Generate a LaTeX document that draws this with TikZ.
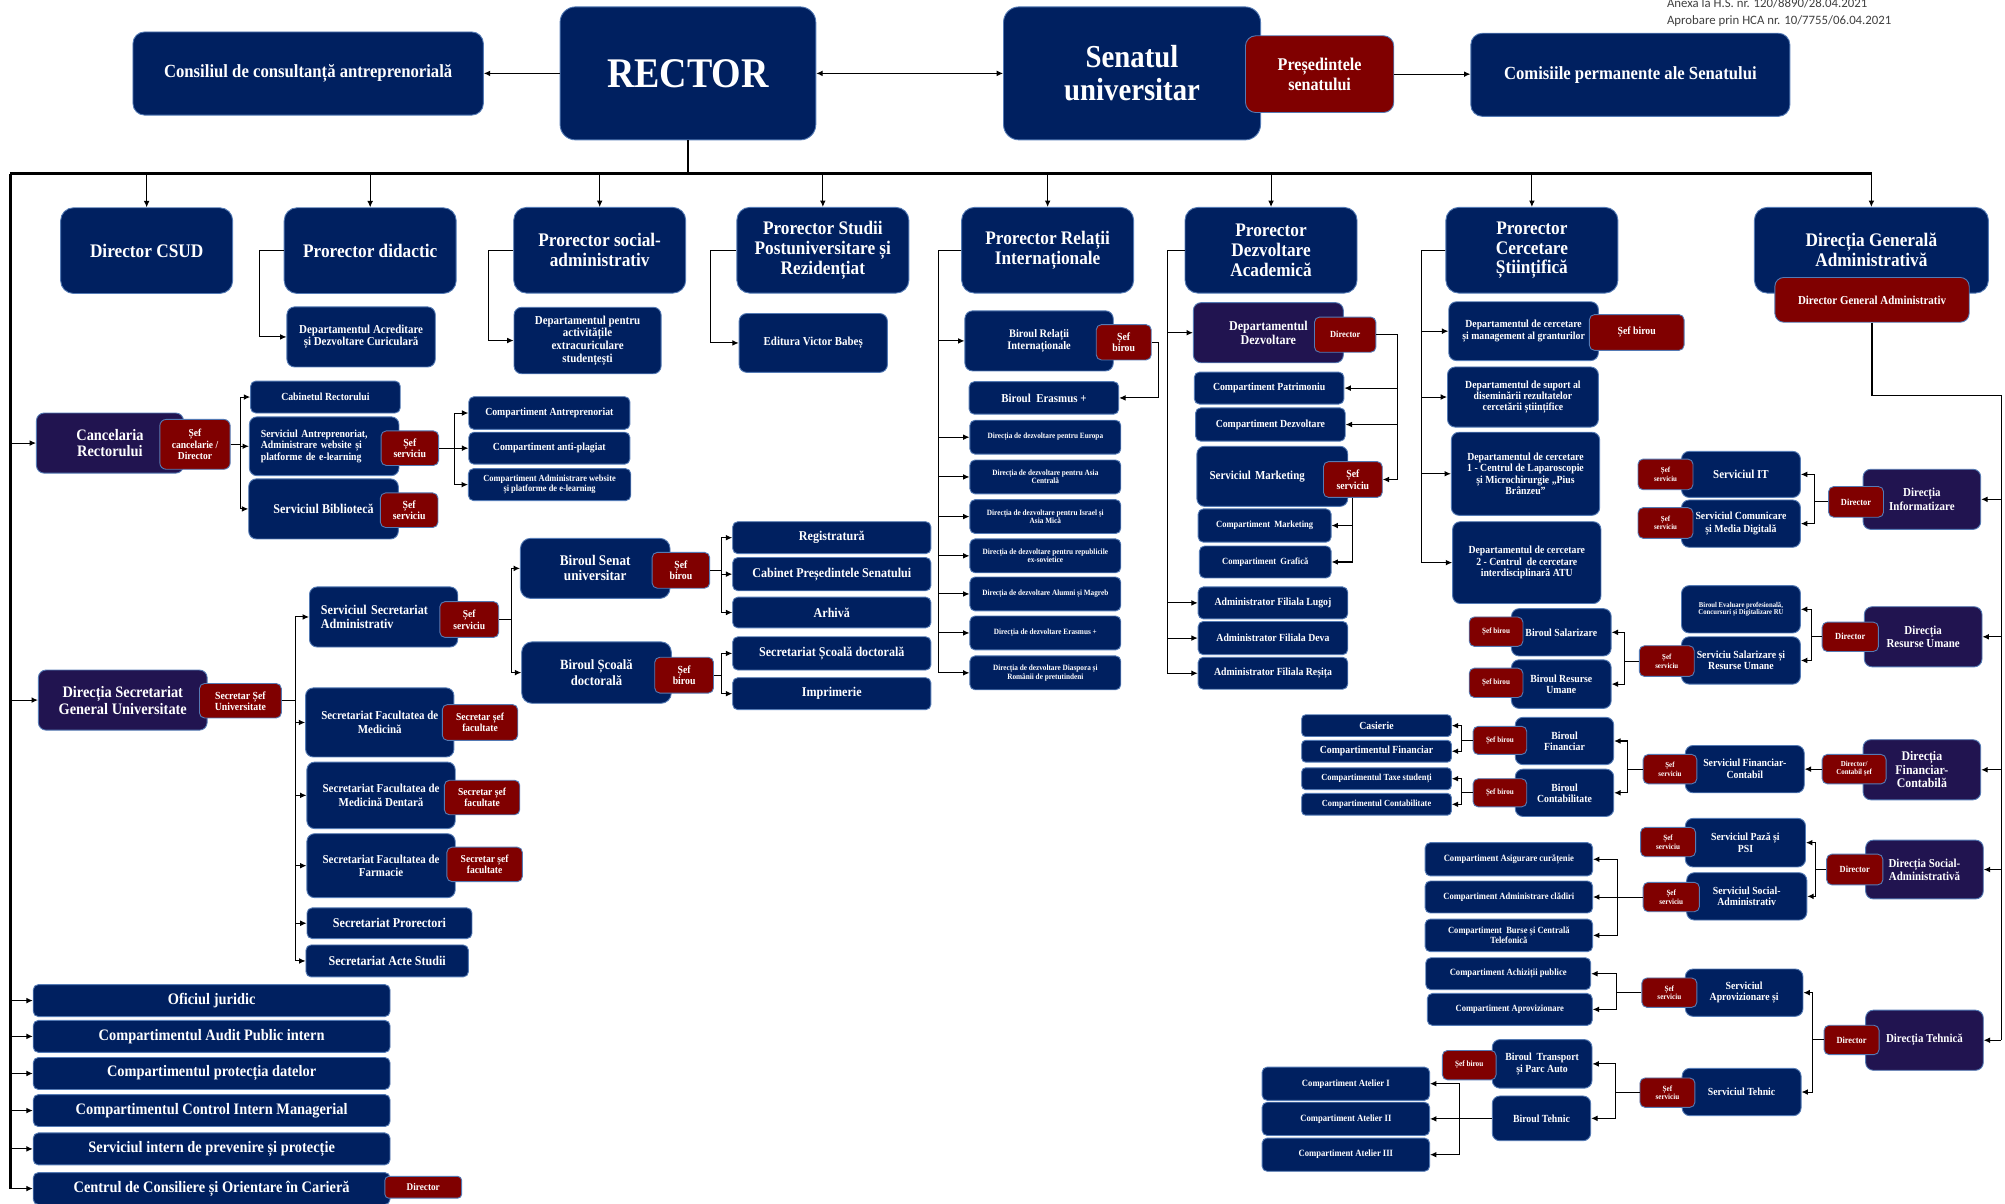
\documentclass[tikz,border=0pt]{standalone}
\usepackage{fontspec}
\setmainfont{Liberation Serif}[FakeStretch=0.9]
\newfontfamily\anexafont{Carlito}
\usepackage{tikz}
\usetikzlibrary{arrows.meta,positioning,calc}
\definecolor{bleumarin}{RGB}{0,32,96}
\definecolor{movinchis}{RGB}{33,20,80}
\definecolor{visiniu}{RGB}{128,0,0}
\definecolor{margine}{RGB}{84,122,180}
\definecolor{gri}{RGB}{64,64,64}
\def\marime#1#2{\fontsize{#1}{#2}\selectfont}
\tikzset{wh/.style 2 args={minimum width=#1,minimum height=#2}}

\begin{document}
\begin{tikzpicture}[x=1pt,y=-1pt]
\tikzstyle{caseta}=[draw=margine,line width=0.7pt,fill=bleumarin,text=white,rounded corners=6pt,align=center,inner sep=1pt]
\tikzstyle{directie}=[caseta,fill=movinchis]
\tikzstyle{sef}=[caseta,fill=visiniu,rounded corners=4pt]
\tikzstyle{mica}=[caseta,rounded corners=4pt]
\tikzstyle{prorector}=[caseta,wh={134.5}{67},rounded corners=10pt,font={\bfseries\marime{15}{15.5}}]
\tikzstyle{lista}=[mica,wh={279}{25},font={\bfseries\marime{12.5}{13}}]
\tikzstyle{sageata}=[-{Latex[length=5pt,width=4.5pt]},line width=0.8pt]
\tikzstyle{magistrala}=[line width=2.2pt]
\tikzstyle{anexa}=[font={\anexafont\marime{10}{12}},text=gri,inner sep=0pt,anchor=base west]
\useasboundingbox (0,0) rectangle (1568,941);
\node[caseta,wh={274}{65},rounded corners=9pt,font={\bfseries\marime{14.5}{16}}] (CCA) at (241,57.5) {Consiliul de consultanță antreprenorială};
\node[caseta,wh={200}{104},rounded corners=12pt,font={\bfseries\marime{33}{35}}] (R) at (538,57.4) {RECTOR};
\node[caseta,wh={201}{104},rounded corners=12pt,font={\bfseries\marime{25}{26}}] (SU) at (885.3,57.4) {Senatul\\universitar};
\node[sef,wh={116}{60},rounded corners=8pt,font={\bfseries\marime{14}{15.6}}] (PS) at (1032,58) {Președintele\\senatului};
\node[caseta,wh={249.5}{65},rounded corners=9pt,font={\bfseries\marime{14.5}{16}}] (CPS) at (1275,58.5) {Comisiile permanente ale Senatului};
\node[anexa] (AX1) at (1303.5,5.7) {Anexa la H.S. nr. 120/8890/28.04.2021};
\node[anexa] (AX2) at (1303.5,19) {Aprobare prin HCA nr. 10/7755/06.04.2021};
\node[prorector] (DC) at (114.7,196) {Director CSUD};
\node[prorector] (PD) at (289.5,196) {Prorector didactic};
\node[prorector] (PSA) at (469,195.7) {Prorector social-\\administrativ};
\node[prorector] (PSP) at (643.5,195.7) {Prorector Studii\\Postuniversitare și\\Rezidențiat};
\node[prorector] (PRI) at (819.3,195.7) {Prorector Relații\\Internaționale};
\node[prorector] (PDA) at (994,195.7) {Prorector\\Dezvoltare\\Academică};
\node[prorector] (PCS) at (1198,195.7) {Prorector\\Cercetare\\Științifică};
\node[prorector,wh={183}{67}] (DGA) at (1463.5,195.7) {Direcția Generală\\Administrativă};
\node[sef,wh={152}{35},rounded corners=7pt,font={\bfseries\marime{9.5}{10}}] (DGAd) at (1464,234.5) {Director General Administrativ};
\node[caseta,wh={116}{47},font={\bfseries\marime{9.5}{10}}] (DAC) at (282.4,263.5) {Departamentul Acreditare\\și Dezvoltare Curiculară};
\node[caseta,wh={115}{52},font={\bfseries\marime{9.5}{10}}] (DAE) at (459.5,266.3) {Departamentul pentru\\activitățile\\extracuriculare\\studențești};
\node[caseta,wh={116}{46},font={\bfseries\marime{9.5}{10}}] (EVB) at (636,268.2) {Editura Victor Babeș};
\node[caseta,wh={116}{47},font={\bfseries\marime{9}{9.5}}] (BRI) at (812.6,266.6) {Biroul Relații\\Internaționale};
\node[sef,wh={43}{27.6},font={\bfseries\marime{8.5}{8.8}}] (sBRI) at (878.8,267.7) {Șef\\birou};
\node[mica,wh={117}{25.4},font={\bfseries\marime{9.5}{10}}] (BE) at (816.4,311.2) {Biroul~ Erasmus +};
\node[mica,wh={118}{26.5},font={\bfseries\marime{6.3}{6.6}}] (DD1) at (817.5,341.9) {Direcția de dezvoltare pentru Europa};
\node[mica,wh={118}{26.5},font={\bfseries\marime{6.3}{6.6}}] (DD2) at (817.5,373) {Direcția de dezvoltare pentru Asia\\Centrală};
\node[mica,wh={118}{26.5},font={\bfseries\marime{6.3}{6.6}}] (DD3) at (817.5,404) {Direcția de dezvoltare pentru Israel și\\Asia Mică};
\node[mica,wh={118}{26.5},font={\bfseries\marime{6.3}{6.6}}] (DD4) at (817.5,434.7) {Direcția de dezvoltare pentru republicile\\ex-sovietice};
\node[mica,wh={118}{26.5},font={\bfseries\marime{6.3}{6.6}}] (DD5) at (817.5,464.5) {Direcția de dezvoltare Alumni și Magreb};
\node[mica,wh={118}{26.5},font={\bfseries\marime{6.3}{6.6}}] (DD6) at (817.5,495) {Direcția de dezvoltare Erasmus +};
\node[mica,wh={118}{26.5},font={\bfseries\marime{6.3}{6.6}}] (DD7) at (817.5,526.2) {Direcția de dezvoltare Diaspora și\\Românii de pretutindeni};
\node[directie,wh={117.3}{47},font={\bfseries\marime{10.5}{11}}] (DDZ) at (991.9,260.2) {Departamentul\\Dezvoltare};
\node[sef,wh={48}{27.5},font={\bfseries\marime{7.3}{8}}] (sDDZ) at (1052,261.7) {Director};
\node[mica,wh={117}{25},font={\bfseries\marime{8.5}{9}}] (CP) at (992.5,303.5) {Compartiment Patrimoniu};
\node[mica,wh={117}{26},font={\bfseries\marime{8.5}{9}}] (CD) at (993.5,332) {Compartiment Dezvoltare};
\node[caseta,wh={118}{47},font={\bfseries\marime{9.5}{10}},text width=98pt,align=left] (SM) at (995,372.5) {Serviciul Marketing};
\node[sef,wh={46}{28},font={\bfseries\marime{8.5}{9.4}}] (sSM) at (1058,375) {Șef\\serviciu};
\node[mica,wh={104}{26},font={\bfseries\marime{7.4}{8}}] (CMk) at (989,411) {Compartiment~ Marketing};
\node[mica,wh={103}{25},font={\bfseries\marime{7.4}{8}}] (CG) at (989.5,439.5) {Compartiment~ Grafică};
\node[mica,wh={117}{25},font={\bfseries\marime{8.5}{9}}] (AFL) at (995.5,471.5) {Administrator Filiala Lugoj};
\node[mica,wh={117}{26},font={\bfseries\marime{8.5}{9}}] (AFD) at (995.5,499) {Administrator Filiala Deva};
\node[mica,wh={117}{25},font={\bfseries\marime{8.5}{9}}] (AFR) at (995.5,526.5) {Administrator Filiala Reșița};
\node[caseta,wh={117}{46},font={\bfseries\marime{8.5}{9.4}}] (DCM) at (1191.5,259) {Departamentul de cercetare\\și management al granturilor};
\node[sef,wh={74}{28},font={\bfseries\marime{8.5}{9}}] (sDCM) at (1280,260) {Șef birou};
\node[caseta,wh={118}{47},font={\bfseries\marime{8.5}{8.8}}] (DSD) at (1191,310.5) {Departamentul de suport al\\diseminării rezultatelor\\cercetării științifice};
\node[caseta,wh={116}{65},font={\bfseries\marime{8.5}{8.9}}] (DC1) at (1193,370.5) {Departamentul de cercetare\\1 - Centrul de Laparoscopie\\și Microchirurgie „Pius\\Brânzeu”};
\node[caseta,wh={116}{64},font={\bfseries\marime{8.5}{8.9}}] (DC2) at (1194,440) {Departamentul de cercetare\\2 - Centrul~ de cercetare\\interdisciplinară ATU};
\node[directie,wh={92}{47},font={\bfseries\marime{9.5}{10.4}}] (DI) at (1503,390.5) {Direcția\\Informatizare};
\node[sef,wh={43}{24},font={\bfseries\marime{7.3}{8}}] (sDI) at (1451.5,392.5) {Director};
\node[caseta,wh={93}{36},font={\bfseries\marime{9.5}{10}}] (SIT) at (1361.5,371) {Serviciul IT};
\node[sef,wh={43}{24},font={\bfseries\marime{6}{6.8}}] (sSIT) at (1302.5,371) {Șef\\serviciu};
\node[caseta,wh={93}{37},font={\bfseries\marime{8.5}{9.6}}] (SCM) at (1361.5,409.5) {Serviciul Comunicare\\și Media Digitală};
\node[sef,wh={43}{24},font={\bfseries\marime{6}{6.8}}] (sSCM) at (1302.5,409) {Șef\\serviciu};
\node[directie,wh={92}{47},font={\bfseries\marime{9.5}{10}}] (DRU) at (1504,498) {Direcția\\Resurse Umane};
\node[sef,wh={44}{23},font={\bfseries\marime{7.3}{8}}] (sDRU) at (1447,498) {Director};
\node[caseta,wh={93}{37},font={\bfseries\marime{5.8}{6.2}}] (BEP) at (1361.5,476.5) {Biroul Evaluare profesională,\\Concursuri și Digitalizare RU};
\node[caseta,wh={93}{37},font={\bfseries\marime{8.5}{8.7}}] (SSRU) at (1361.5,516.5) {Serviciu Salarizare și\\Resurse Umane};
\node[sef,wh={43}{24},font={\bfseries\marime{6}{6.8}}] (sSSRU) at (1303.5,517) {Șef\\serviciu};
\node[caseta,wh={78}{37},font={\bfseries\marime{8.5}{9}}] (BS) at (1221,494.5) {Biroul Salarizare};
\node[sef,wh={42}{23},font={\bfseries\marime{6.2}{7}}] (sBS) at (1170,494) {Șef birou};
\node[caseta,wh={78}{38},font={\bfseries\marime{8.5}{8.9}}] (BRU) at (1221,535) {Biroul Resurse\\Umane};
\node[sef,wh={42}{23},font={\bfseries\marime{6.2}{7}}] (sBRU) at (1170,534) {Șef birou};
\node[directie,wh={92}{47},font={\bfseries\marime{10.3}{10.7}}] (DFC) at (1503,602) {Direcția\\Financiar-\\Contabilă};
\node[sef,wh={50}{23},font={\bfseries\marime{6}{6.5}}] (sDFC) at (1450,601.5) {Director/\\Contabil șef};
\node[caseta,wh={93}{37},font={\bfseries\marime{8.5}{9.4}}] (SFC) at (1364.5,601.5) {Serviciul Financiar-\\Contabil};
\node[sef,wh={42}{23},font={\bfseries\marime{6}{6.8}}] (sSFC) at (1306,601.5) {Șef\\serviciu};
\node[caseta,wh={77}{37},font={\bfseries\marime{8.5}{8.6}}] (BF) at (1223.5,579.5) {Biroul\\Financiar};
\node[sef,wh={42}{22},font={\bfseries\marime{6.2}{7}}] (sBF) at (1173,579) {Șef birou};
\node[caseta,wh={77}{37},font={\bfseries\marime{8.5}{8.6}}] (BC) at (1223.5,620) {Biroul\\Contabilitate};
\node[sef,wh={42}{22},font={\bfseries\marime{6.2}{7}}] (sBC) at (1173,620) {Șef birou};
\node[mica,wh={117}{17},rounded corners=3pt,font={\bfseries\marime{8.5}{9}}] (Cas) at (1076.5,567.5) {Casierie};
\node[mica,wh={117}{17},rounded corners=3pt,font={\bfseries\marime{8.5}{9}}] (CF) at (1076.5,587.5) {Compartimentul Financiar};
\node[mica,wh={117}{17},rounded corners=3pt,font={\bfseries\marime{7.3}{8}}] (CTS) at (1076.5,609) {Compartimentul Taxe studenți};
\node[mica,wh={117}{17},rounded corners=3pt,font={\bfseries\marime{7.3}{8}}] (CCo) at (1076.5,629) {Compartimentul Contabilitate};
\node[directie,wh={92}{46},font={\bfseries\marime{9.5}{9.9}}] (DSA) at (1505,680) {Direcția Social-\\Administrativă};
\node[sef,wh={44}{24},font={\bfseries\marime{7.3}{8}}] (sDSA) at (1450.5,680) {Director};
\node[caseta,wh={94}{38},font={\bfseries\marime{8.5}{8.8}}] (SPP) at (1365,659) {Serviciul Pază și\\PSI};
\node[sef,wh={43}{23},font={\bfseries\marime{6.2}{6.8}}] (sSPP) at (1304.5,658.5) {Șef\\serviciu};
\node[caseta,wh={94}{37},font={\bfseries\marime{8.5}{8.8}}] (SSA) at (1366,701) {Serviciul Social-\\Administrativ};
\node[sef,wh={44}{23},font={\bfseries\marime{6.2}{6.8}}] (sSSA) at (1307,701.5) {Șef\\serviciu};
\node[mica,wh={131}{26},font={\bfseries\marime{7.5}{8}}] (CAC) at (1180,672) {Compartiment Asigurare curățenie};
\node[mica,wh={131}{25},font={\bfseries\marime{7.4}{8}}] (CAD) at (1180,701.5) {Compartiment Administrare clădiri};
\node[mica,wh={131}{25.5},font={\bfseries\marime{7.4}{7.8}}] (CBT) at (1180,731.5) {Compartiment~ Burse și Centrală\\Telefonică};
\node[directie,wh={92}{47},font={\bfseries\marime{9.5}{10}}] (DT) at (1505,813.5) {Direcția Tehnică};
\node[sef,wh={43}{23},font={\bfseries\marime{7.3}{8}}] (sDT) at (1448,813.3) {Director};
\node[caseta,wh={92}{37},font={\bfseries\marime{8.5}{8.9}}] (SAp) at (1364,776.3) {Serviciul\\Aprovizionare și};
\node[sef,wh={43}{23},font={\bfseries\marime{6.2}{6.8}}] (sSAp) at (1305.5,776.3) {Șef\\serviciu};
\node[caseta,wh={93}{37},font={\bfseries\marime{8.5}{9}}] (ST) at (1362,854) {Serviciul Tehnic};
\node[sef,wh={43}{23},font={\bfseries\marime{6.2}{6.8}}] (sST) at (1304,854.5) {Șef\\serviciu};
\node[mica,wh={129}{25},font={\bfseries\marime{7.5}{8}}] (CAP) at (1179.5,761.5) {Compartiment Achiziții publice};
\node[mica,wh={129}{25},font={\bfseries\marime{7.4}{8}}] (CApr) at (1180.7,789.4) {Compartiment Aprovizionare};
\node[caseta,wh={78}{38},font={\bfseries\marime{8.5}{9.4}}] (BTP) at (1206,832) {Biroul~ Transport\\și Parc Auto};
\node[sef,wh={42}{23},font={\bfseries\marime{6.3}{7}}] (sBTP) at (1149,833) {Șef birou};
\node[caseta,wh={77}{35},font={\bfseries\marime{8.5}{9}}] (BT) at (1205.5,874.6) {Biroul Tehnic};
\node[mica,wh={131}{26},font={\bfseries\marime{7.5}{8}}] (CA1) at (1052.5,847.5) {Compartiment Atelier I};
\node[mica,wh={131}{26},font={\bfseries\marime{7.5}{8}}] (CA2) at (1052.5,875) {Compartiment Atelier II};
\node[mica,wh={131}{26},font={\bfseries\marime{7.5}{8}}] (CA3) at (1052.5,903) {Compartiment Atelier III};
\node[directie,wh={115}{47},font={\bfseries\marime{12.5}{13}}] (CR) at (86,346.5) {Cancelaria\\Rectorului};
\node[sef,wh={55}{39},rounded corners=5pt,font={\bfseries\marime{8.3}{9}}] (sCR) at (152.5,347.5) {Șef\\cancelarie /\\Director};
\node[mica,wh={117}{25},font={\bfseries\marime{8.5}{9}}] (CRb) at (254.5,310.5) {Cabinetul Rectorului};
\node[caseta,wh={117}{46},font={\bfseries\marime{8.5}{8.8}},text width=99pt,align=left] (SAW) at (253.5,349) {Serviciul Antreprenoriat,\\Administrare website și\\platforme de e-learning};
\node[sef,wh={45}{27},font={\bfseries\marime{8.5}{9}}] (sSAW) at (320.5,350.5) {Șef\\serviciu};
\node[caseta,wh={117}{47},font={\bfseries\marime{10.5}{11}}] (SB) at (253,398) {Serviciul Bibliotecă};
\node[sef,wh={45}{27},font={\bfseries\marime{8.5}{9}}] (sSB) at (320,399) {Șef\\serviciu};
\node[mica,wh={126}{25.5},font={\bfseries\marime{8.5}{9}}] (CA) at (429.6,323) {Compartiment Antreprenoriat};
\node[mica,wh={126}{25},font={\bfseries\marime{8.5}{9}}] (CAPl) at (429.6,350.5) {Compartiment anti-plagiat};
\node[mica,wh={127}{25},font={\bfseries\marime{7.3}{7.8}}] (CAW) at (429.8,379) {Compartiment Administrare website\\și platforme de e-learning};
\node[directie,wh={132}{47},font={\bfseries\marime{12.5}{13.3}}] (DSG) at (96,547.5) {Direcția Secretariat\\General Universitate};
\node[sef,wh={64}{27},font={\bfseries\marime{8.5}{8.6}}] (sDSG) at (188,548) {Secretar Șef\\Universitate};
\node[caseta,wh={116}{47},font={\bfseries\marime{10.5}{11.2}},text width=98pt,align=left] (SSAd) at (300,482.5) {Serviciul Secretariat\\Administrativ};
\node[sef,wh={46}{28},font={\bfseries\marime{8.3}{9.4}}] (sSSAd) at (367,484.5) {Șef\\serviciu};
\node[caseta,wh={116}{54},font={\bfseries\marime{9.5}{10.4}}] (SFM) at (297,565) {Secretariat Facultatea de\\Medicină};
\node[sef,wh={59}{28},font={\bfseries\marime{8.3}{8.8}}] (sSFM) at (375.4,565) {Secretar șef\\facultate};
\node[caseta,wh={116}{52},font={\bfseries\marime{9.5}{10.4}}] (SFMD) at (298,622) {Secretariat Facultatea de\\Medicină Dentară};
\node[sef,wh={59}{27},font={\bfseries\marime{8.3}{8.8}}] (sSFMD) at (377,623.7) {Secretar șef\\facultate};
\node[caseta,wh={116}{50},font={\bfseries\marime{9.5}{10.4}}] (SFF) at (298,677) {Secretariat Facultatea de\\Farmacie};
\node[sef,wh={59}{27},font={\bfseries\marime{8.3}{8.8}}] (sSFF) at (379,676) {Secretar șef\\facultate};
\node[mica,wh={129}{24},font={\bfseries\marime{10.5}{11}}] (SPr) at (304.6,722) {Secretariat Prorectori};
\node[mica,wh={127}{25},font={\bfseries\marime{10.5}{11}}] (SAS) at (302.8,751.5) {Secretariat Acte Studii};
\node[caseta,wh={117}{47},rounded corners=8pt,font={\bfseries\marime{11.5}{11.8}}] (BSU) at (465.5,444.5) {Biroul Senat\\universitar};
\node[sef,wh={45}{28},font={\bfseries\marime{8.5}{8.9}}] (sBSU) at (532.5,446) {Șef\\birou};
\node[caseta,wh={117}{48},rounded corners=8pt,font={\bfseries\marime{11}{11.8}}] (BSD) at (466.5,526) {Biroul Școală\\doctorală};
\node[sef,wh={46}{28},font={\bfseries\marime{8.5}{8.9}}] (sBSD) at (535,528) {Șef\\birou};
\node[mica,wh={155}{25},font={\bfseries\marime{10.5}{11}}] (Reg) at (650.5,420.5) {Registratură};
\node[mica,wh={155}{26},font={\bfseries\marime{10.5}{11}}] (CPSn) at (650.5,449) {Cabinet Președintele Senatului};
\node[mica,wh={155}{24},font={\bfseries\marime{10.5}{11}}] (Arh) at (650.5,479) {Arhivă};
\node[mica,wh={155}{26},font={\bfseries\marime{10.5}{11}}] (SSD) at (650.5,511) {Secretariat Școală doctorală};
\node[mica,wh={155}{25},font={\bfseries\marime{10.5}{11}}] (Imp) at (650.5,542.5) {Imprimerie};
\node[lista] (OJ) at (165.5,782.5) {Oficiul juridic};
\node[lista] (CAPI) at (165.5,810.5) {Compartimentul Audit Public intern};
\node[lista] (CPD) at (165.5,839.5) {Compartimentul protecția datelor};
\node[lista] (CCIM) at (165.5,868.5) {Compartimentul Control Intern Managerial};
\node[lista] (SIPP) at (165.5,898.5) {Serviciul intern de prevenire și protecție};
\node[lista] (CCOC) at (165.5,929.5) {Centrul de Consiliere și Orientare în Carieră};
\node[sef,wh={60}{17},rounded corners=3pt,font={\bfseries\marime{8}{9}}] (sCC) at (331,928.5) {Director};
\coordinate (busS) at (8,136);
\coordinate (busD) at (1464,136);
\coordinate (busJ) at (8,929.5);
\coordinate (colt) at (1565,309.5);
\draw[sageata] (R.west)--(R.west-|CCA.east);
\draw[sageata,{Latex[length=5pt,width=4.5pt]}-{Latex[length=5pt,width=4.5pt]}] (R.east)--(R.east-|SU.west);
\draw[sageata] (PS.east)--(PS.east-|CPS.west);
\draw[magistrala] (R.south)--(R.south|-busS);
\draw[magistrala] (busS)--(busD);
\draw[magistrala] (busS)--(busJ);
\draw[sageata] (DC.north|-busS)--(DC.north);
\draw[sageata] (PD.north|-busS)--(PD.north);
\draw[sageata] (PSA.north|-busS)--(PSA.north);
\draw[sageata] (PSP.north|-busS)--(PSP.north);
\draw[sageata] (PRI.north|-busS)--(PRI.north);
\draw[sageata] (PDA.north|-busS)--(PDA.north);
\draw[sageata] (PCS.north|-busS)--(PCS.north);
\draw[sageata] (DGA.north|-busS)--(DGA.north);
\draw[sageata] (busS|-CR.west)--(CR.west);
\draw[sageata] (busS|-DSG.west)--(DSG.west);
\draw[sageata] (busS|-OJ.west)--(OJ.west);
\draw[sageata] (busS|-CAPI.west)--(CAPI.west);
\draw[sageata] (busS|-CPD.west)--(CPD.west);
\draw[sageata] (busS|-CCIM.west)--(CCIM.west);
\draw[sageata] (busS|-SIPP.west)--(SIPP.west);
\draw[sageata] (busS|-CCOC.west)--(CCOC.west);
\draw[sageata] (PD.west)--++(-19,0)|-(DAC.west);
\draw[sageata] (PSA.west)--++(-19,0)|-(DAE.west);
\draw[sageata] (PSP.west)--++(-20,0)|-(EVB.west);
\draw[sageata] (PRI.west)--++(-18,0)|-(BRI.west);
\draw[sageata] (PRI.west)--++(-18,0)|-(DD1.west);
\draw[sageata] (PRI.west)--++(-18,0)|-(DD2.west);
\draw[sageata] (PRI.west)--++(-18,0)|-(DD3.west);
\draw[sageata] (PRI.west)--++(-18,0)|-(DD4.west);
\draw[sageata] (PRI.west)--++(-18,0)|-(DD5.west);
\draw[sageata] (PRI.west)--++(-18,0)|-(DD6.west);
\draw[sageata] (PRI.west)--++(-18,0)|-(DD7.west);
\draw[sageata] (sBRI.east)--++(5,0)|-(BE.east);
\draw[sageata] (PDA.west)--++(-13.2,0)|-(DDZ.west);
\draw[sageata] (PDA.west)--++(-13.2,0)|-(AFL.west);
\draw[sageata] (PDA.west)--++(-13.2,0)|-(AFD.west);
\draw[sageata] (PDA.west)--++(-13.2,0)|-(AFR.west);
\draw[sageata] (sDDZ.east)--++(16.5,0)|-(CP.east);
\draw[sageata] (sDDZ.east)--++(16.5,0)|-(CD.east);
\draw[sageata] (sDDZ.east)--++(16.5,0)|-(sSM.east);
\draw[sageata] (sSM.south)|-(CMk.east);
\draw[sageata] (sSM.south)|-(CG.east);
\draw[sageata] (PCS.west)--++(-18.7,0)|-(DCM.west);
\draw[sageata] (PCS.west)--++(-18.7,0)|-(DSD.west);
\draw[sageata] (PCS.west)--++(-18.7,0)|-(DC1.west);
\draw[sageata] (PCS.west)--++(-18.7,0)|-(DC2.west);
\draw[line width=1pt] (DGAd.south)|-(colt)--(colt|-DT.east);
\draw[sageata] (colt|-DI.east)--(DI.east);
\draw[sageata] (colt|-DRU.east)--(DRU.east);
\draw[sageata] (colt|-DFC.east)--(DFC.east);
\draw[sageata] (colt|-DSA.east)--(DSA.east);
\draw[sageata] (colt|-DT.east)--(DT.east);
\draw[sageata] (sDI.west)--++(-11,0)|-(SIT.east);
\draw[sageata] (sDI.west)--++(-11,0)|-(SCM.east);
\draw[sageata] (sDRU.west)--++(-8,0)|-(BEP.east);
\draw[sageata] (sDRU.west)--++(-8,0)|-(SSRU.east);
\draw[sageata] (sSSRU.west)--++(-11,0)|-(BS.east);
\draw[sageata] (sSSRU.west)--++(-11,0)|-(BRU.east);
\draw[sageata] (sDFC.west)--(sDFC.west-|SFC.east);
\draw[sageata] (sSFC.west)--++(-12,0)|-(BF.east);
\draw[sageata] (sSFC.west)--++(-12,0)|-(BC.east);
\draw[sageata] (sBF.west)--++(-9,0)|-(Cas.east);
\draw[sageata] (sBF.west)--++(-9,0)|-(CF.east);
\draw[sageata] (sBC.west)--++(-9,0)|-(CTS.east);
\draw[sageata] (sBC.west)--++(-9,0)|-(CCo.east);
\draw[sageata] (sDSA.west)--++(-8.6,0)|-(SPP.east);
\draw[sageata] (sDSA.west)--++(-8.6,0)|-(SSA.east);
\draw[sageata] (sSSA.west)--++(-20,0)|-(CAC.east);
\draw[sageata] (sSSA.west)--++(-20,0)|-(CAD.east);
\draw[sageata] (sSSA.west)--++(-20,0)|-(CBT.east);
\draw[sageata] (sDT.west)--++(-8.5,0)|-(SAp.east);
\draw[sageata] (sDT.west)--++(-8.5,0)|-(ST.east);
\draw[sageata] (sSAp.west)--++(-19.5,0)|-(CAP.east);
\draw[sageata] (sSAp.west)--++(-19.5,0)|-(CApr.east);
\draw[sageata] (sST.west)--++(-18.5,0)|-(BTP.east);
\draw[sageata] (sST.west)--++(-18.5,0)|-(BT.east);
\draw[sageata] (BT.west)--++(-25,0)|-(CA1.east);
\draw[sageata] (BT.west)--++(-25,0)|-(CA2.east);
\draw[sageata] (BT.west)--++(-25,0)|-(CA3.east);
\draw[sageata] (sCR.east)--++(8,0)|-(CRb.west);
\draw[sageata] (sCR.east)--++(8,0)|-(SAW.west);
\draw[sageata] (sCR.east)--++(8,0)|-(SB.west);
\draw[sageata] (sSAW.east)--++(12,0)|-(CA.west);
\draw[sageata] (sSAW.east)--++(12,0)|-(CAPl.west);
\draw[sageata] (sSAW.east)--++(12,0)|-(CAW.west);
\draw[sageata] (sDSG.east)--++(10.7,0)|-(SSAd.west);
\draw[sageata] (sDSG.east)--++(10.7,0)|-(SFM.west);
\draw[sageata] (sDSG.east)--++(10.7,0)|-(SFMD.west);
\draw[sageata] (sDSG.east)--++(10.7,0)|-(SFF.west);
\draw[sageata] (sDSG.east)--++(10.7,0)|-(SPr.west);
\draw[sageata] (sDSG.east)--++(10.7,0)|-(SAS.west);
\draw[sageata] (sSSAd.east)--++(9.4,0)|-(BSU.west);
\draw[sageata] (sSSAd.east)--++(9.4,0)|-(BSD.west);
\draw[sageata] (sBSU.east)--++(9,0)|-(Reg.west);
\draw[sageata] (sBSU.east)--++(9,0)|-(CPSn.west);
\draw[sageata] (sBSU.east)--++(9,0)|-(Arh.west);
\draw[sageata] (sBSD.east)--++(6,0)|-(SSD.west);
\draw[sageata] (sBSD.east)--++(6,0)|-(Imp.west);
\end{tikzpicture}
\end{document}
